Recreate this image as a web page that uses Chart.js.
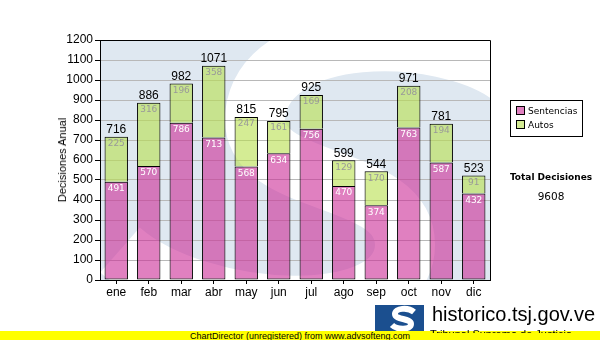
<!DOCTYPE html>
<html>
<head>
<meta charset="utf-8">
<script src="https://cdn.jsdelivr.net/npm/chart.js@4/dist/chart.umd.min.js"></script>
<style>
body{margin:0;width:600px;height:340px;overflow:hidden;background:#fff;position:relative;font-family:"Liberation Sans",Arial,sans-serif}
#c{position:absolute;left:0;top:0}
#ytitle{position:absolute;left:62px;top:160px;transform:translate(-50%,-50%) rotate(-90deg);font-size:11px;white-space:nowrap;color:#000}
#legend{position:absolute;left:510px;top:100px;width:71px;height:35px;border:1px solid #000;font-family:"DejaVu Sans",Verdana,sans-serif;font-size:9px;color:#000}
#legend div{position:absolute;left:5px;height:12px;line-height:12px}
#legend span{display:inline-block;width:7px;height:7px;border:1px solid #000;margin-right:3px;vertical-align:-1px}
#total{position:absolute;left:505px;top:170px;width:92px;text-align:center;font-family:"DejaVu Sans",Verdana,sans-serif;color:#000}
#total b{display:block;font-size:9px;line-height:14px}
#total div{font-size:10.5px;line-height:24px}
#logo{position:absolute;left:375px;top:305px}
#site{position:absolute;left:432px;top:303px;font-size:20px;color:#000;white-space:nowrap}
#sub{position:absolute;left:430px;top:328px;height:5px;overflow:hidden;z-index:2}
#sub div{font-size:11px;line-height:13px;color:#000;white-space:nowrap}
#foot{position:absolute;left:0;top:331px;width:600px;height:9px;background:#ffff00;font-size:9px;line-height:10px;text-align:center;color:#000;overflow:hidden}
</style>
</head>
<body>
<canvas id="c" width="600" height="340"></canvas>
<div id="ytitle">Decisiones Anual</div>
<div id="legend">
  <div style="top:4px"><span style="background:#e080c0"></span>Sentencias</div>
  <div style="top:18px"><span style="background:#d4ec94"></span>Autos</div>
</div>
<div id="total"><b>Total Decisiones</b><div>9608</div></div>
<svg id="logo" width="49" height="26">
  <rect x="0" y="0" width="49" height="26" fill="#1b4f8f"/>
  <path d="M39 7 C33 2 20 3 20 9 C20 15 36 13 36 19 C36 25 22 25 17 20" stroke="#fff" stroke-width="6" fill="none"/>
</svg>
<div id="site">historico.tsj.gov.ve</div>
<div id="foot">ChartDirector (unregistered) from www.advsofteng.com</div>
<div id="sub"><div>Tribunal Supremo de Justicia</div></div>
<script>
// monthly decisions
let months=['ene','feb','mar','abr','may','jun','jul','ago','sep','oct','nov','dic'];
let sentencias=[491,570,786,713,568,634,756,470,374,763,587,432];
let autos=[225,316,196,358,247,161,169,129,170,208,194,91];
let yTicks=[0,100,200,300,400,500,600,700,800,900,1000,1100,1200];

//plot background with the big S watermark
let plotBack={
  id:'plotBack',
  beforeDraw(chart){
    let a=chart.chartArea, ctx=chart.ctx;
    ctx.save();
    ctx.fillStyle='#dfe8f1';
    ctx.fillRect(a.left,a.top,a.right-a.left,a.bottom-a.top);
    ctx.beginPath();
    ctx.rect(a.left,a.top,a.right-a.left,a.bottom-a.top);
    ctx.clip();
    ctx.strokeStyle='#ffffff';
    ctx.lineWidth=60;
    ctx.beginPath();
    ctx.moveTo(510,75);
    ctx.bezierCurveTo(440,25,265,25,255,115);
    ctx.bezierCurveTo(250,190,405,170,405,245);
    ctx.bezierCurveTo(405,330,200,320,120,250);
    ctx.stroke();
    ctx.restore();
  },
  afterDraw(chart){
    let a=chart.chartArea, ctx=chart.ctx;
    ctx.save();
    ctx.strokeStyle='#000';
    ctx.lineWidth=1;
    ctx.beginPath();
    ctx.moveTo(a.left,a.top+0.5);
    ctx.lineTo(Math.round(a.right)+0.5,a.top+0.5);
    ctx.lineTo(Math.round(a.right)+0.5,a.bottom);
    ctx.stroke();
    ctx.restore();
  }
};

//value labels on segments and totals on top
let valueLabels={
  id:'valueLabels',
  afterDatasetsDraw(chart){
    let ctx=chart.ctx;
    ctx.save();
    ctx.textAlign='center';
    ctx.textBaseline='middle';
    ctx.font='9px "DejaVu Sans", Verdana, sans-serif';
    chart.data.datasets.forEach((ds,i)=>{
      chart.getDatasetMeta(i).data.forEach((bar,j)=>{
        ctx.fillStyle=i==0?'#ffffff':'#999999';
        ctx.fillText(ds.data[j],bar.x,bar.y+7);
      });
    });
    ctx.font='12px "Liberation Sans", Arial, sans-serif';
    ctx.fillStyle='#000';
    ctx.textBaseline='bottom';
    chart.getDatasetMeta(1).data.forEach((bar,j)=>{
      ctx.fillText(sentencias[j]+autos[j],bar.x,bar.y-1);
    });
    ctx.restore();
  }
};

let decisionsChart=new Chart(document.getElementById('c'),{
  type:'bar',
  data:{
    labels:months,
    datasets:[{
      label:'Sentencias',
      data:sentencias,
      backgroundColor:'rgba(203,43,150,0.6)',
      borderColor:'#000',
      borderWidth:1,
      borderSkipped:false
    },{
      label:'Autos',
      data:autos,
      backgroundColor:'rgba(183,223,77,0.6)',
      borderColor:'#000',
      borderWidth:1,
      borderSkipped:'bottom'
    }]
  },
  options:{
    responsive:false,
    animation:false,
    layout:{padding:{left:0,right:110,top:40,bottom:40}},
    datasets:{bar:{barPercentage:0.72,categoryPercentage:1}},
    plugins:{legend:{display:false},tooltip:{enabled:false}},
    scales:{
      x:{
        stacked:true,
        afterFit(s){s.height=20},
        grid:{drawOnChartArea:false,offset:false,tickLength:4,tickColor:'#000'},
        border:{color:'#000'},
        ticks:{color:'#000',padding:1,font:{size:12,family:'"Liberation Sans", Arial, sans-serif'}}
      },
      y:{
        stacked:true,
        min:0,max:1200,
        afterFit(s){s.width=100},
        afterBuildTicks(s){s.ticks=yTicks.map(v=>({value:v}))},
        grid:{color:'#b8b8b8',tickLength:5,tickColor:'#000'},
        border:{color:'#000'},
        ticks:{color:'#000',padding:2,callback:v=>v,font:{size:12,family:'"Liberation Sans", Arial, sans-serif'}}
      }
    }
  },
  plugins:[plotBack,valueLabels]
});
</script>
</body>
</html>
